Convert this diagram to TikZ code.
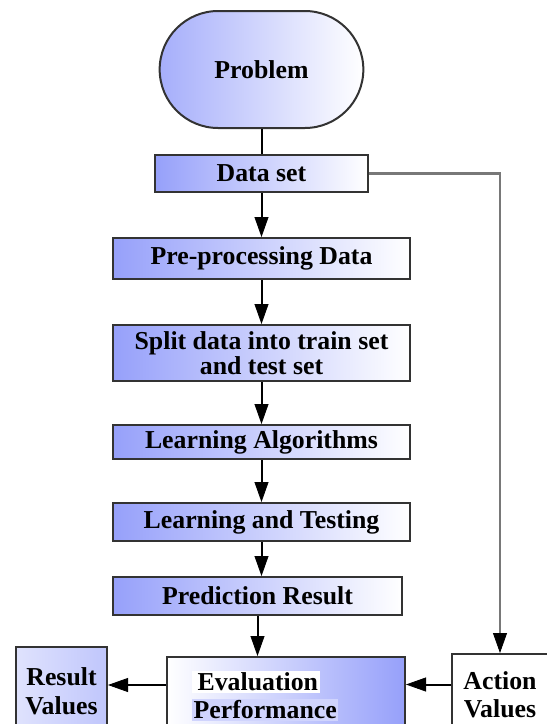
\documentclass[tikz,border=0pt]{standalone}
\usepackage{fontspec}
\setmainfont{Liberation Serif}
\usepackage{tikz}
\usetikzlibrary{
	arrows.meta,									% 箭头样式
	positioning,									% 节点的高级摆放
	shapes.misc,									% 圆角矩形
}

\definecolor{gblue}{RGB}{150,160,250}
\definecolor{glink}{RGB}{120,120,120}
\setlength{\fboxsep}{0.8pt}

\tikzset{
	boxbase/.style={rectangle, draw=black!80, line width=1pt, inner sep=0pt, align=center,
		font=\fontsize{12.9}{11.5}\selectfont\bfseries},
	stepbox/.style={boxbase, left color=gblue, middle color=white, right color=white},
	arr/.style={line width=1pt, arrows={-Triangle[length=10pt,width=7pt,color=black,fill=black,line width=0.4pt]}},
}

\begin{document}
\begin{tikzpicture}[x=0.5pt, y=-0.5pt]
		\useasboundingbox (0,0) rectangle (547,724);
		\node [rounded rectangle, draw=black!80, line width=1pt, left color=gblue!85, right color=white,
			minimum width=108.5pt, minimum height=58.5pt, font=\fontsize{12.9}{14}\selectfont\bfseries]
			(problem) at (261.5,69.5) {Problem};
		\node [stepbox, minimum width=106.5pt, minimum height=18.5pt] (data) at (261.5,173.5) {Data set};
		\node [stepbox, minimum width=148.5pt, minimum height=20.5pt] (prep) at (261.5,258.5) {Pre-processing Data};
		\node [stepbox, minimum width=148.5pt, minimum height=28pt] (split) at (261.5,353) {Split data into train set\\and test set};
		\node [stepbox, minimum width=148.5pt, minimum height=17pt] (algo) at (261.5,442) {Learning Algorithms};
		\node [stepbox, minimum width=148.5pt, minimum height=19pt] (learn) at (261.5,522) {Learning and Testing};
		\node [stepbox, minimum width=144.5pt, minimum height=19pt] (pred) at (257.5,596) {Prediction Result};
		\node [boxbase, left color=white, middle color=white, right color=gblue, align=left,
			font=\fontsize{12.9}{14}\selectfont\bfseries, text width=94pt, inner xsep=12.5pt,
			minimum height=39pt]
			(eval) at (286,696) {\colorbox{white}{\hspace{2pt}Evaluation}\\\colorbox{gblue!45}{Performance}};
		\node [boxbase, left color=gblue!30, right color=gblue!60, minimum width=45.5pt, minimum height=44pt,
			font=\fontsize{12.9}{14.5}\selectfont\bfseries] (result) at (61.5,691) {Result\\Values};
		\node [boxbase, fill=white, minimum width=48pt, minimum height=40.5pt,
			font=\fontsize{12.9}{14}\selectfont\bfseries] (action) at (500,694.5) {Action\\Values};

		\draw [line width=1pt] (problem.south) -- (data.north);
		\draw [arr] (data) -- (prep);
		\draw [arr] (prep) -- (split);
		\draw [arr] (split) -- (algo);
		\draw [arr] (algo) -- (learn);
		\draw [arr] (learn.south) -- (learn.south |- pred.north);
		\draw [arr] (pred) -- (pred |- eval.north);
		\draw [arr, draw=glink, line width=1.3pt] (data.east) -| (action.north);
		\draw [arr] ([yshift=5pt]action.west) -- ([yshift=5pt]action.west -| eval.east);
		\draw [arr] ([yshift=5.5pt]eval.west) -- ([yshift=5.5pt]eval.west -| result.east);
	\end{tikzpicture}
\end{document}
